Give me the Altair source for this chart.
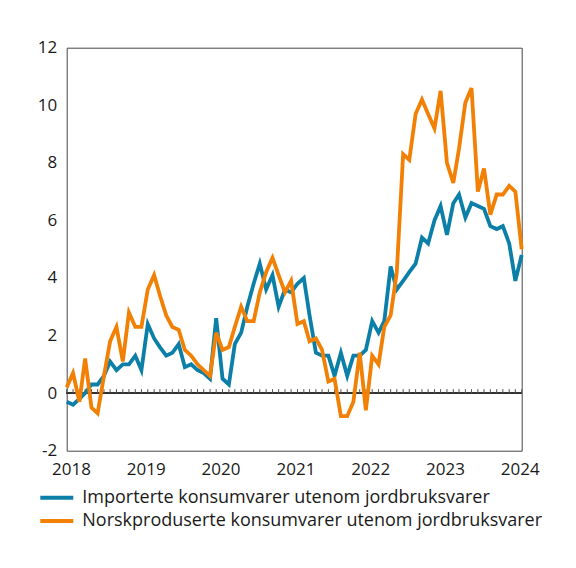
import altair as alt
import pandas as pd

IMP = "Importerte konsumvarer utenom jordbruksvarer"
NORSK = "Norskproduserte konsumvarer utenom jordbruksvarer"

# månedlige observasjoner, des. 2017 - jan. 2024
maaneder = pd.date_range("2017-12-01", "2024-01-01", freq="MS")

importerte = [
    -0.3, -0.4, -0.2, 0.0, 0.3, 0.3, 0.6, 1.1, 0.8, 1.0, 1.0, 1.3,
    0.8, 2.4, 1.9, 1.6, 1.3, 1.4, 1.7, 0.9, 1.0, 0.8, 0.7, 0.5,
    2.6, 0.5, 0.3, 1.7, 2.1, 3.0, 3.8, 4.5, 3.6, 4.1, 3.0, 3.6,
    3.5, 3.8, 4.0, 2.7, 1.4, 1.3, 1.3, 0.6, 1.4, 0.6, 1.3, 1.3,
    1.5, 2.5, 2.1, 2.5, 4.4, 3.6, 3.9, 4.2, 4.5, 5.4, 5.2, 6.0,
    6.5, 5.5, 6.6, 6.9, 6.1, 6.6, 6.5, 6.4, 5.8, 5.7, 5.8, 5.2,
    3.9, 4.8,
]
norskproduserte = [
    0.2, 0.7, -0.3, 1.2, -0.5, -0.7, 0.6, 1.8, 2.3, 1.1, 2.8, 2.3,
    2.3, 3.6, 4.1, 3.4, 2.7, 2.3, 2.2, 1.5, 1.3, 1.0, 0.8, 0.6,
    2.1, 1.5, 1.6, 2.3, 3.0, 2.5, 2.5, 3.5, 4.2, 4.7, 4.1, 3.5,
    3.9, 2.4, 2.5, 1.8, 1.9, 1.5, 0.4, 0.5, -0.8, -0.8, -0.3, 1.4,
    -0.6, 1.3, 1.0, 2.3, 2.7, 4.2, 8.3, 8.1, 9.7, 10.2, 9.7, 9.2,
    10.5, 8.0, 7.3, 8.5, 10.1, 10.6, 7.0, 7.8, 6.2, 6.9, 6.9, 7.2,
    7.0, 5.0,
]

y_ticks = [-2, 0, 2, 4, 6, 8, 10, 12]
aar = [2018, 2019, 2020, 2021, 2022, 2023, 2024]

FARGER = {IMP: "#0b7fa8", NORSK: "#f28005"}

df = pd.DataFrame({"dato": maaneder, IMP: importerte, NORSK: norskproduserte})
lang = df.melt(id_vars="dato", var_name="serie", value_name="verdi")

x = alt.X(
    "dato:T",
    title=None,
    scale=alt.Scale(domain=[alt.DateTime(year=2017, month=12, date=1),
                            alt.DateTime(year=2024, month=1, date=1)]),
    axis=alt.Axis(values=[alt.DateTime(year=a, month=1, date=1) for a in aar],
                  format="%Y", ticks=False, domain=False, grid=False,
                  labelPadding=11, labelFlush=False, labelOffset=-2),
)
y = alt.Y(
    "verdi:Q",
    title=None,
    scale=alt.Scale(domain=[-2, 12], nice=False),
    axis=alt.Axis(values=y_ticks, labelExpr="datum.value", ticks=False,
                  domain=False, gridColor="#7a7a7a", labelPadding=10,
                  minExtent=40, maxExtent=40),
)
farge = alt.Color(
    "serie:N",
    scale=alt.Scale(domain=list(FARGER), range=list(FARGER.values())),
    legend=alt.Legend(title=None, orient="none", legendX=-28.4, legendY=441,
                      direction="vertical", symbolType="stroke",
                      symbolSize=1089, symbolStrokeWidth=4, labelOffset=7,
                      clipHeight=18, rowPadding=5.3, labelLimit=600),
)

null_linje = alt.Chart(df).mark_rule(color="#333", strokeWidth=1.2).encode(
    y=alt.datum(0)
)
maaned_ticks = alt.Chart(df).mark_rule(
    color="#555", strokeWidth=1, y2Offset=-4
).encode(x=x, y=alt.datum(0), y2=alt.datum(0))

linjer = [
    alt.Chart(lang).transform_filter(alt.datum.serie == s)
    .mark_line(strokeWidth=3.8)
    .encode(x=x, y=y, color=farge)
    for s in (IMP, NORSK)
]

chart = (
    alt.layer(null_linje, maaned_ticks, *linjer)
    .properties(
        width=455, height=403,
        padding={"left": 58.7, "top": 39.7, "right": 40, "bottom": 100},
        autosize=alt.AutoSizeParams(type="none"),
    )
    .configure_view(stroke="#444", strokeWidth=1)
    .configure_axis(labelFont="Open Sans", labelFontSize=17,
                    labelColor="#1a1a1a")
    .configure_legend(labelFont="Open Sans", labelFontSize=18,
                      labelColor="#1a1a1a")
)

chart.save("out.html", embed_options={"renderer": "svg", "actions": False})
